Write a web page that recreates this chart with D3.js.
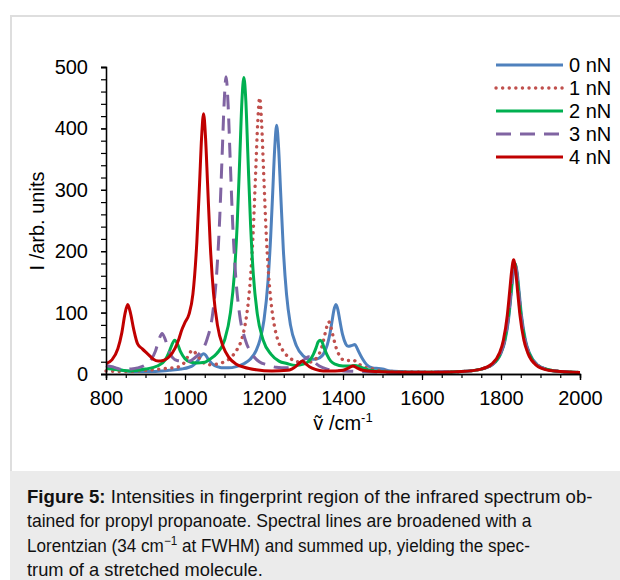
<!DOCTYPE html>
<html>
<head>
<meta charset="utf-8">
<script src="https://cdn.jsdelivr.net/npm/d3@7"></script>
<style>
  body { margin: 0; background: #fff; }
  svg { display: block; font-family: 'Liberation Sans', Arial, sans-serif; }
</style>
</head>
<body>
<svg id="chart" width="620" height="580"></svg>
<script>
// spectra, [wavenumber cm-1, intensity]
const nn0 = [[800,10],[815,11],[830,8],[850,5],[880,4],[920,4],[960,6],[990,8],[1010,11],[1020,14],[1030,20],[1037,26],[1042,31],[1047,33],[1052,31],[1057,26],[1064,20],[1072,15],[1082,12],[1092,10],[1110,10],[1130,12],[1150,17],[1165,24],[1180,38],[1190,56],[1200,88],[1210,150],[1217,225],[1222,295],[1227,366],[1232,405],[1237,368],[1242,298],[1249,202],[1257,130],[1267,80],[1282,46],[1300,29],[1315,24],[1330,24],[1340,26],[1350,32],[1360,47],[1367,66],[1372,85],[1377,104],[1382,113],[1387,105],[1392,87],[1399,64],[1407,49],[1413,45],[1420,46],[1425,47],[1430,48],[1435,43],[1440,36],[1450,24],[1460,15],[1475,10],[1490,9],[1500,8],[1520,5],[1550,4],[1600,3],[1650,3],[1700,4],[1750,8],[1780,16],[1800,34],[1810,54],[1820,94],[1826,132],[1831,164],[1836,180],[1841,165],[1846,133],[1852,95],[1862,55],[1872,34],[1892,15],[1920,7],[1950,4],[2000,2.5]];
const nn1 = [[800,5],[850,4],[900,6],[950,9],[980,11],[1000,20],[1010,32],[1019,39],[1030,31],[1045,19],[1060,15],[1080,16],[1100,20],[1115,26],[1130,38],[1140,50],[1150,73],[1160,116],[1167,168],[1172,223],[1179,330],[1184,408],[1189,450],[1194,408],[1199,330],[1206,223],[1211,168],[1218,116],[1228,73],[1238,50],[1248,38],[1263,27],[1280,21],[1300,18],[1320,20],[1335,28],[1345,41],[1354,64],[1359,77],[1364,85],[1369,77],[1374,64],[1383,42],[1393,28],[1405,22],[1415,22],[1425,23],[1435,19],[1450,12],[1470,9],[1500,5],[1550,3.5],[1650,3],[1700,4],[1750,8],[1778,16],[1798,34],[1808,54],[1818,94],[1824,132],[1829,164],[1834,182],[1839,164],[1844,132],[1850,94],[1860,54],[1870,34],[1890,15],[1920,7],[1950,4],[2000,2.5]];
const nn2 = [[800,9],[815,8],[830,7],[860,5],[900,8],[930,13],[950,23],[960,36],[967,48],[974,55],[981,49],[989,36],[1000,25],[1015,19],[1030,18],[1050,19],[1060,23],[1080,33],[1100,55],[1115,100],[1125,163],[1132,242],[1139,358],[1144,443],[1149,483],[1154,445],[1159,360],[1166,243],[1173,162],[1183,98],[1198,55],[1218,32],[1238,21],[1258,17],[1280,14],[1300,16],[1315,22],[1325,32],[1332,43],[1337,52],[1342,55],[1347,52],[1352,43],[1359,32],[1369,21],[1380,16],[1400,13],[1420,13],[1430,14],[1445,11],[1470,6],[1500,4],[1550,3],[1650,3],[1700,4],[1750,8],[1779,16],[1799,34],[1809,54],[1819,94],[1825,132],[1830,164],[1835,180],[1840,164],[1845,132],[1851,94],[1861,54],[1871,34],[1891,15],[1920,7],[1950,4],[2000,2.5]];
const nn3 = [[800,14],[815,12],[830,9],[845,7],[860,8],[880,10],[900,15],[915,24],[925,37],[935,58],[942,66],[949,58],[958,40],[968,27],[980,22],[995,21],[1010,21],[1020,24],[1030,29],[1040,36],[1055,55],[1070,98],[1080,162],[1087,241],[1094,356],[1099,440],[1104,484],[1109,440],[1114,356],[1121,241],[1128,162],[1138,98],[1153,55],[1168,34],[1188,20],[1208,15],[1230,11],[1260,10],[1280,14],[1295,20],[1305,25],[1312,28],[1320,26],[1330,18],[1340,13],[1360,8],[1400,5],[1450,4],[1500,3],[1600,3],[1700,4],[1750,8],[1779,16],[1799,34],[1809,54],[1819,94],[1825,132],[1830,164],[1835,180],[1840,164],[1845,132],[1851,94],[1861,54],[1871,34],[1891,15],[1920,7],[1950,4],[2000,2.5]];
const nn4 = [[800,17],[815,23],[830,41],[840,67],[848,98],[855,113],[862,99],[870,73],[880,49],[892,41],[900,36],[910,30],[920,24],[932,21],[945,22],[960,28],[975,42],[985,58],[992,72],[1000,84],[1010,97],[1020,130],[1030,215],[1037,312],[1042,385],[1047,424],[1052,385],[1057,312],[1064,210],[1072,133],[1082,80],[1097,44],[1110,28],[1130,16],[1150,11],[1180,7],[1220,5],[1260,6],[1270,8],[1280,12],[1290,18],[1297,21],[1305,17],[1315,12],[1330,7.5],[1350,5],[1380,5],[1400,6],[1415,10],[1425,13],[1435,10],[1450,6],[1480,4],[1550,3],[1650,3],[1700,4],[1750,8],[1776,16],[1796,34],[1806,55],[1816,96],[1822,135],[1827,168],[1832,186],[1837,168],[1842,135],[1848,96],[1858,55],[1868,34],[1888,15],[1920,6],[1950,4],[2000,2.5]];

const seriesNames = ['0 nN', '1 nN', '2 nN', '3 nN', '4 nN'];
const seriesData = [nn0, nn1, nn2, nn3, nn4];
const xTicks = [800, 1000, 1200, 1400, 1600, 1800, 2000];
const yTicks = [0, 100, 200, 300, 400, 500];
// caption: each line is a list of [text, kind] parts
const captionLines = [
  [['Figure 5:', 'bold'], [' Intensities in fingerprint region of the infrared spectrum ob-', '']],
  [['tained for propyl propanoate. Spectral lines are broadened with a', '']],
  [['Lorentzian (34 cm', ''], ['−1', 'sup'], [' at FWHM) and summed up, yielding the spec-', '']],
  [['trum of a stretched molecule.', '']]
];
const captionWidths = [566, 505, 503, 236];

const styles = [
  {color: '#4f81bd', dash: null, cap: 'butt', w: 3},
  {color: '#c0504d', dash: '0.1 6.5', cap: 'round', w: 3.4},
  {color: '#00b050', dash: null, cap: 'butt', w: 3},
  {color: '#8064a2', dash: '15 9', cap: 'butt', w: 3},
  {color: '#c00000', dash: null, cap: 'butt', w: 3}
];

const svg = d3.select('#chart');

// frame and caption box
svg.append('rect')
  .attr('x', 10).attr('y', 471).attr('width', 610).attr('height', 109)
  .attr('fill', '#ebebeb');
svg.append('path')
  .attr('d', 'M11,471V16H620')
  .attr('fill', 'none')
  .attr('stroke', '#dedede')
  .attr('stroke-width', 2);

const x = d3.scaleLinear().domain([800, 2000]).range([106, 580]);
const y = d3.scaleLinear().domain([0, 500]).range([374, 67]);

const line = d3.line()
  .x(d => x(d[0]))
  .y(d => y(d[1]))
  .curve(d3.curveMonotoneX);

svg.append('g')
  .selectAll('path')
  .data(seriesData)
  .enter().append('path')
    .attr('d', line)
    .attr('fill', 'none')
    .attr('stroke', (d, i) => styles[i].color)
    .attr('stroke-width', (d, i) => styles[i].w)
    .attr('stroke-linecap', (d, i) => styles[i].cap)
    .attr('stroke-linejoin', 'round')
    .attr('stroke-dasharray', (d, i) => styles[i].dash);

// axes
const xMinor = d3.axisBottom(x).tickValues(d3.range(800, 2001, 50)).tickSize(4).tickFormat('');
const xMajor = d3.axisBottom(x).tickValues(xTicks).tickSize(6).tickPadding(11).tickFormat(d3.format('d'));
const yMinor = d3.axisLeft(y).tickValues(d3.range(0, 501, 20)).tickSize(5).tickFormat('');
const yMajor = d3.axisLeft(y).tickValues(yTicks).tickSize(5).tickPadding(13).tickFormat(d3.format('d'));

const gx = svg.append('g').attr('transform', `translate(0,${y(0)})`);
gx.append('g').call(xMinor);
gx.append('g').call(xMajor);
const gy = svg.append('g').attr('transform', `translate(${x(800)},0)`);
gy.append('g').call(yMinor);
gy.append('g').call(yMajor);

svg.selectAll('.domain').attr('stroke', '#000').attr('stroke-width', 1.3);
svg.selectAll('.tick line').attr('stroke', '#000').attr('stroke-width', 1.2);
svg.selectAll('.tick text')
  .attr('font-family', "'Liberation Sans', Arial, sans-serif")
  .attr('font-size', 20)
  .attr('fill', '#000');

// axis titles
const xt = svg.append('text')
  .attr('x', 343).attr('y', 430)
  .attr('text-anchor', 'middle')
  .attr('font-size', 20);
xt.append('tspan').text('ṽ /cm');
xt.append('tspan').attr('font-size', 13).attr('dy', -8).text('-1');

svg.append('text')
  .attr('transform', 'translate(44,221) rotate(-90)')
  .attr('text-anchor', 'middle')
  .attr('font-size', 20)
  .text('I /arb. units');

// legend
const legend = svg.append('g')
  .selectAll('g')
  .data(seriesNames)
  .enter().append('g')
    .attr('transform', (d, i) => `translate(0,${65 + i * 23})`);
legend.append('line')
  .attr('x1', 496).attr('x2', 563)
  .attr('stroke', (d, i) => styles[i].color)
  .attr('stroke-width', (d, i) => styles[i].w)
  .attr('stroke-linecap', (d, i) => styles[i].cap)
  .attr('stroke-dasharray', (d, i) => styles[i].dash);
legend.append('text')
  .attr('x', 569)
  .attr('dy', '0.36em')
  .attr('font-size', 20)
  .text(d => d);

// caption, each line squeezed to the width it has in the figure
captionLines.forEach((parts, i) => {
  const g = svg.append('g').attr('fill', '#111');
  let cx = 0;
  parts.forEach(([txt, kind]) => {
    const t = g.append('text')
      .attr('x', cx)
      .attr('y', kind === 'sup' ? -7 : 0)
      .attr('font-size', kind === 'sup' ? 12 : 17.5)
      .attr('font-weight', kind === 'bold' ? 'bold' : null)
      .style('white-space', 'pre')
      .text(txt);
    cx += t.node().getComputedTextLength();
  });
  const sx = captionWidths[i] / cx;
  g.attr('transform', `translate(27,${503 + i * 24.3}) scale(${sx},1)`);
});
</script>
</body>
</html>
